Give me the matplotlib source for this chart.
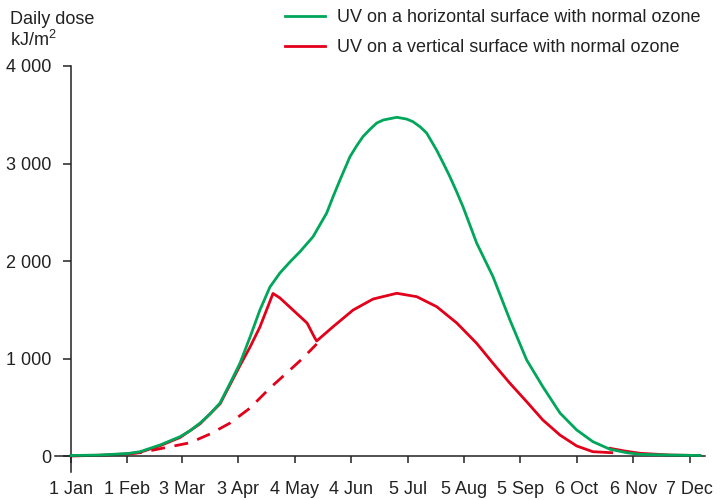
import matplotlib
matplotlib.use("Agg")
import matplotlib.pyplot as plt

plt.rcParams['font.family'] = ['Liberation Sans', 'DejaVu Sans']
plt.rcParams['font.size'] = 13
plt.rcParams['mathtext.fontset'] = 'custom'
plt.rcParams['mathtext.rm'] = 'Liberation Sans'

# day of year -> daily dose (kJ/m2)
green_day = [0, 15.9, 31.3, 37.9, 48.9, 59.9, 65.4, 70.9, 76.4, 81.9, 87.4, 92.9,
             98.4, 103.8, 109.3, 114.8, 120.3, 125.8, 133.0, 140.5, 144.0, 147.8,
             153.3, 156.9, 160.4, 164.3, 168.0, 171.6, 179.0, 184.4, 187.9, 191.8,
             195.4, 198.2, 200.9, 204.6, 208.2, 211.9, 215.4, 219.2, 222.9, 231.9,
             241.2, 250.4, 259.3, 268.7, 277.9, 286.8, 296.2, 305.3, 312.6, 329.0,
             345.6]
green_val = [5, 10, 26, 44, 113, 198, 259, 338, 431, 544, 746, 954,
             1221, 1497, 1733, 1877, 1990, 2095, 2249, 2492, 2659, 2831,
             3070, 3179, 3275, 3351, 3415, 3446, 3474, 3456, 3429, 3377,
             3313, 3224, 3138, 3002, 2865, 2711, 2557, 2369, 2185, 1839,
             1395, 985, 710, 441, 267, 147, 69, 34, 17, 10,
             5]

red_day = [0, 15.9, 31.3, 37.9, 48.9, 59.9, 70.9, 81.9, 92.9, 98.4, 103.8, 111.0,
           114.8, 122.0, 129.7, 134.0, 135.0, 144.0, 155.0, 166.0, 179.0, 190.0,
           201.0, 212.0, 222.9, 231.9, 241.2, 250.4, 259.3, 268.7, 277.9,
           286.8, 297.1]
red_val = [0, 8, 22, 38, 105, 190, 330, 535, 930, 1118, 1323, 1667,
           1621, 1497, 1364, 1210, 1180, 1326, 1497, 1610, 1669, 1634,
           1531, 1364, 1156, 951, 746, 557, 369, 215, 103,
           44, 34]

red_tail_day = [296.2, 304.4, 312.6, 329.0, 345.6]
red_tail_val = [79, 51, 28, 10, 5]

dash_day = [31.3, 37.9, 54.4, 65.4, 76.4, 87.4, 98.4, 109.3, 118.5, 127.5, 135.0]
dash_val = [22, 34, 95, 136, 226, 338, 492, 697, 851, 1005, 1149]

tick_days = [0, 31, 61, 92, 123, 154, 185, 216, 247, 278, 309, 340]
tick_labels = ['1 Jan', '1 Feb', '3 Mar', '3 Apr', '4 May', '4 Jun',
               '5 Jul', '5 Aug', '5 Sep', '6 Oct', '6 Nov', '7 Dec']
y_ticks = [0, 1000, 2000, 3000, 4000]
y_labels = ['0', '1 000', '2 000', '3 000', '4 000']

green = '#00a65a'
red = '#e2001a'
ink = '#222222'

fig = plt.figure(figsize=(7.21, 5.0), dpi=100)
ax = fig.add_axes([0.0763, 0.056, 0.9015, 0.812])

ax.plot(red_tail_day, red_tail_val, color=red, lw=2, zorder=2)
ax.plot(dash_day, dash_val, color=red, lw=2, ls=(0, (5, 3.5)), zorder=2)
l_red, = ax.plot(red_day, red_val, color=red, lw=2, zorder=2,
                 solid_joinstyle='round',
                 label='UV on a vertical surface with normal ozone')
l_green, = ax.plot(green_day, green_val, color=green, lw=2, zorder=3,
                   solid_joinstyle='round',
                   label='UV on a horizontal surface with normal ozone')

ax.set_xlim(-8.8, 348.4)
ax.set_ylim(-164, 4000)
for s in ['top', 'right']:
    ax.spines[s].set_visible(False)
ax.spines['left'].set_position(('data', 0))
ax.spines['bottom'].set_position(('data', 0))
for s in ['left', 'bottom']:
    ax.spines[s].set_linewidth(1.1)
    ax.spines[s].set_color(ink)

ax.set_xticks(tick_days)
ax.set_xticklabels(tick_labels)
ax.set_yticks(y_ticks)
ax.set_yticklabels(y_labels)
ax.tick_params(axis='x', direction='out', length=5, width=1.1, pad=13, colors=ink)
ax.tick_params(axis='y', direction='out', length=5.8, width=1.1, pad=8, colors=ink)

fig.text(10 / 721, 1 - 11 / 500, 'Daily dose\nkJ/m$^{\\mathrm{2}}$', ha='left', va='top',
         linespacing=1.1, color=ink)

fig.legend(handles=[l_green, l_red], loc='upper left',
           bbox_to_anchor=(285 / 721, 1 - 9 / 500), frameon=False,
           borderpad=0, borderaxespad=0, handlelength=2.22,
           handletextpad=0.67, labelspacing=0.72, labelcolor=ink)

fig.savefig('out.png', dpi=100)
